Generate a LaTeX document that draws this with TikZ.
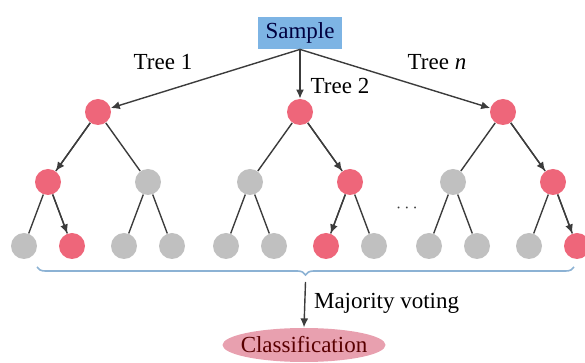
\documentclass[tikz,border=0pt]{standalone}
\usepackage{fontspec}
\setmainfont{Liberation Serif}
\usetikzlibrary{arrows.meta}
\usetikzlibrary{decorations.pathreplacing}
\usetikzlibrary{positioning}

\definecolor{nred}{RGB}{238,102,122}
\definecolor{ngray}{RGB}{192,192,192}
\definecolor{boxblue}{RGB}{125,180,228}
\definecolor{braceblue}{RGB}{140,178,212}
\definecolor{ovalpink}{RGB}{232,160,175}
\definecolor{edgegray}{RGB}{60,60,60}

\begin{document}
\begin{tikzpicture}[x=0.5pt, y=-0.5pt, font=\fontsize{11.5}{13}\selectfont,
    tnode/.style={circle, minimum size=13pt, inner sep=0pt},
    edge/.style={draw=edgegray, line width=0.7pt},
    vote/.style={edge, -{Latex[length=4.5pt, width=4pt]}}]

        \useasboundingbox (0,0) rectangle (585,363);

        % Sample box
        \node[fill=boxblue, text=black!75!blue, minimum width=42pt, minimum height=16pt, inner sep=0pt] (s) at (300,33) {Sample};

        % Levels of the trees
        \def\lvone{112}
        \def\lvtwo{182}
        \def\lvthree{246}

        % Horizontal offsets of children and leaves
        \def\half{50}
        \def\leaf{24}

        % Draw the three trees
        \foreach \i/\rx/\ca/\cb/\la/\lb/\lc/\ld in {1/98/nred/ngray/ngray/nred/ngray/ngray,
                                                    2/300/ngray/nred/ngray/ngray/nred/ngray,
                                                    3/503/ngray/nred/ngray/ngray/ngray/nred} {
          % Root and children
          \node[tnode, fill=nred] (r\i) at (\rx,\lvone) {};
          \node[tnode, fill=\ca] (a\i1) at ({\rx-\half},\lvtwo) {};
          \node[tnode, fill=\cb] (a\i2) at ({\rx+\half},\lvtwo) {};

          % Leaves
          \node[tnode, fill=\la] (l\i1) at ({\rx-\half-\leaf},\lvthree) {};
          \node[tnode, fill=\lb] (l\i2) at ({\rx-\half+\leaf},\lvthree) {};
          \node[tnode, fill=\lc] (l\i3) at ({\rx+\half-\leaf},\lvthree) {};
          \node[tnode, fill=\ld] (l\i4) at ({\rx+\half+\leaf},\lvthree) {};

          \draw[edge] (r\i) -- (a\i1);
          \draw[edge] (r\i) -- (a\i2);
          \draw[edge] (a\i1) -- (l\i1);
          \draw[edge] (a\i1) -- (l\i2);
          \draw[edge] (a\i2) -- (l\i3);
          \draw[edge] (a\i2) -- (l\i4);
        }

        % Sample to the trees
        \draw[vote] (s.south) -- (r1);
        \draw[vote] (s.south) -- (r2);
        \draw[vote] (s.south) -- (r3);

        % Voting paths
        \draw[vote] (r1) -- (a11);
        \draw[vote] (a11) -- (l12);
        \draw[vote] (r2) -- (a22);
        \draw[vote] (a22) -- (l23);
        \draw[vote] (r3) -- (a32);
        \draw[vote] (a32) -- (l34);

        \node (t1) at (163,62) {Tree 1};
        \node (t2) at (340,86) {Tree 2};
        \node (tn) at (437,62) {Tree \textit{n}};
        \node[text=edgegray, font=\small] (dots) at (407,208) {$\cdots$};

        % Brace over all leaves
        \draw[braceblue, line width=0.8pt, decorate, decoration={brace, mirror, amplitude=4pt}] (37,267) -- (574,267);
        \coordinate (bt) at (305.5,282);

        % Classification
        \fill[ovalpink] (304,345) ellipse [x radius=40.75pt, y radius=8.5pt];
        \node[text=black!65!red, inner ysep=4.5pt] (cls) at (304,345) {Classification};
        \draw[vote] (bt) -- (cls.north);
        \node[anchor=west] (mv) at (307,303) {Majority voting};

      \end{tikzpicture}
\end{document}
